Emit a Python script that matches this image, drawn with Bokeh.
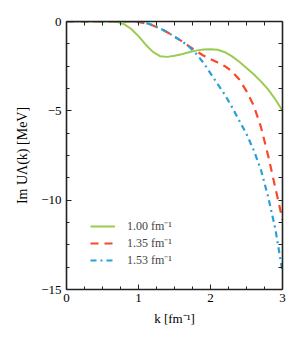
from bokeh.plotting import figure
from bokeh.models import LinearAxis, FixedTicker, Legend, LegendItem, Range1d
from bokeh.embed import file_html
from bokeh.resources import INLINE

k = [0.0, 0.1, 0.2, 0.3, 0.4, 0.5, 0.6, 0.7, 0.8, 0.9, 1.0, 1.1, 1.2, 1.3, 1.4, 1.5,
     1.6, 1.7, 1.8, 1.9, 2.0, 2.1, 2.2, 2.3, 2.4, 2.5, 2.6, 2.7, 2.8, 2.9, 3.0]
im_u_100 = [0, 0, 0, 0, 0, 0, 0, -0.02, -0.15, -0.42, -0.82, -1.3, -1.7, -1.94, -1.98, -1.92,
            -1.83, -1.72, -1.63, -1.57, -1.55, -1.58, -1.72, -1.95, -2.25, -2.6, -2.95, -3.35, -3.8, -4.35, -5.0]
im_u_135 = [0, 0, 0, 0, 0, 0, 0, 0, 0, -0.01, -0.03, -0.1, -0.22, -0.4, -0.6, -0.85,
            -1.1, -1.38, -1.65, -1.9, -2.1, -2.3, -2.5, -2.8, -3.25, -3.9, -4.7, -5.9, -7.5, -9.3, -11.1]
im_u_153 = [0, 0, 0, 0, 0, 0, 0, 0, 0, 0, -0.02, -0.08, -0.2, -0.38, -0.6, -0.85,
            -1.1, -1.4, -1.8, -2.3, -2.9, -3.5, -4.1, -4.8, -5.55, -6.3, -7.2, -8.3, -9.8, -11.6, -14.0]
labels = ["1.00 fm\u207b\u00b9", "1.35 fm\u207b\u00b9", "1.53 fm\u207b\u00b9"]
x_ticks = [0, 1, 2, 3]
y_ticks = [0, -5, -10, -15]
x_minor = [i * 0.25 for i in range(13)]
y_minor = [-i * 1.25 for i in range(13)]

FONT = "Liberation Serif"
AX = "#222222"

p = figure(width=293, height=336, output_backend="svg", toolbar_location=None,
           x_range=Range1d(0, 3), y_range=Range1d(-15, 0),
           min_border_left=66, min_border_right=11, min_border_top=21, min_border_bottom=47)
p.xaxis.visible = False
p.yaxis.visible = False
p.outline_line_color = None
p.grid.visible = False
p.background_fill_color = "white"

r1 = p.line(k, im_u_100, line_color="#9BCB50", line_width=2)
r2 = p.line(k, im_u_135, line_color="#F8492A", line_width=2.2, line_dash="8 6")
r3 = p.line(k, im_u_153, line_color="#2A9FD8", line_width=2.2, line_dash="6 4 2 4")

def style(ax):
    ax.axis_line_color = AX
    ax.axis_line_width = 1.6
    ax.major_tick_line_color = AX
    ax.minor_tick_line_color = AX
    ax.major_tick_in = 5
    ax.major_tick_out = 0
    ax.minor_tick_in = 3
    ax.minor_tick_out = 0
    ax.major_label_text_font = FONT
    ax.axis_label_text_font = FONT
    ax.axis_label_text_font_style = "normal"
    ax.axis_label_text_color = "black"
    ax.major_label_text_color = "black"
    ax.major_label_text_font_size = "13px"
    ax.axis_label_text_font_size = "13px"

xb = LinearAxis(ticker=FixedTicker(ticks=x_ticks, minor_ticks=x_minor),
                axis_label="k [fm\u207b\u00b9]")
style(xb)
xb.major_label_standoff = 4
xb.axis_label_standoff = 6
p.add_layout(xb, "below")

# mirrored axes: ticks only (drawn as minor ticks so that no labels are produced)
xt = LinearAxis(ticker=FixedTicker(ticks=[], minor_ticks=x_minor))
style(xt)
xt.minor_tick_in = 4
p.add_layout(xt, "above")

yl = LinearAxis(ticker=FixedTicker(ticks=y_ticks, minor_ticks=y_minor),
                axis_label="Im U\u039b(k) [MeV]")
style(yl)
yl.axis_label_text_font_size = "14px"
yl.major_label_standoff = 5
yl.axis_label_standoff = 8
yl.major_label_overrides = {0: "0", -5: "\u22125", -10: "\u221210", -15: "\u221215"}
p.add_layout(yl, "left")

yr = LinearAxis(ticker=FixedTicker(ticks=[], minor_ticks=y_minor))
style(yr)
yr.minor_tick_in = 4
p.add_layout(yr, "right")

legend = Legend(items=[LegendItem(label=labels[0], renderers=[r1]),
                       LegendItem(label=labels[1], renderers=[r2]),
                       LegendItem(label=labels[2], renderers=[r3])],
                location=(24, 21), padding=0, margin=0, spacing=0,
                glyph_width=25, glyph_height=16, label_height=16, label_standoff=12,
                label_text_font=FONT, label_text_font_size="12px",
                border_line_color=None, background_fill_alpha=0)
p.add_layout(legend, "center")

open("out.html", "w").write(file_html(p, INLINE))
